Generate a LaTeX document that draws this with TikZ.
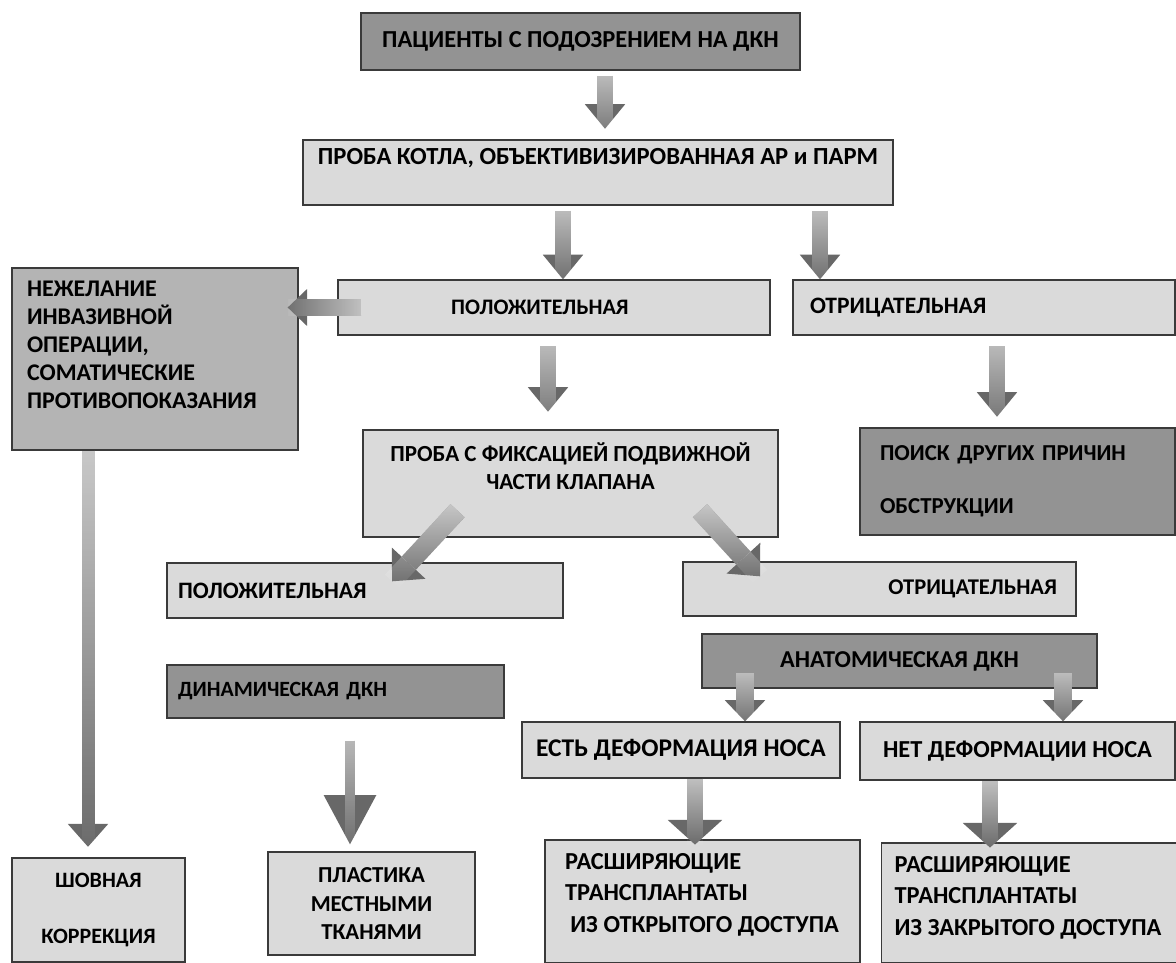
\documentclass[tikz,border=0pt]{standalone}
\usepackage{fontspec}
\setmainfont{Carlito}
\usepackage{tikz}
\usetikzlibrary{arrows.meta,positioning,calc,fadings}

\definecolor{lightfill}{HTML}{DADADA}
\definecolor{midfill}{HTML}{B4B4B4}
\definecolor{darkfill}{HTML}{939393}
\definecolor{arrowgray}{HTML}{686868}
\definecolor{edgegray}{HTML}{3A3A3A}

\newcommand{\fsz}[2]{\bfseries\fontsize{#1}{#2}\selectfont}

\tikzfading[name=arrowfade, top color=transparent!35, bottom color=transparent!100]

\tikzset{
  box/.style={draw=edgegray, line width=0.8pt, rectangle, inner sep=0pt},
  light/.style={box, fill=lightfill},
  mid/.style={box, fill=midfill},
  dark/.style={box, fill=darkfill},
  barrow/.style={draw=arrowgray, line width=9pt, -{Triangle[length=14pt,width=23pt,line width=0pt]},
    postaction={draw=white, -, path fading=arrowfade, fading angle=#1}},
  barrow/.default=0,
}

\begin{document}
\begin{tikzpicture}[x=0.02cm, y=-0.02cm, font=\fsz{11.5}{15.5}]
  \useasboundingbox[fill=white] (0,0) rectangle (1176,963);

  \node[dark, minimum width=8.78cm, minimum height=1.14cm, font=\fsz{13.9}{17}] (suspect) at (580.5,41.5) {ПАЦИЕНТЫ С ПОДОЗРЕНИЕМ НА ДКН};
  \node[light, minimum width=11.8cm, minimum height=1.3cm, font=\fsz{14}{17}] (kotle) at (598,172.5) {\raisebox{8pt}[\height][\depth]{ПРОБА КОТЛА, ОБЪЕКТИВИЗИРОВАННАЯ АР и ПАРМ}};
  \node[light, minimum width=8.64cm, minimum height=1.1cm, font=\fsz{12.6}{15.5}] (pos1) at (554,307.5) {ПОЛОЖИТЕЛЬНАЯ\hspace*{16pt}};
  \node[light, minimum width=7.64cm, minimum height=1.1cm, text width=6.96cm, inner xsep=0.34cm, align=left, font=\fsz{13.4}{16}] (neg1) at (984,307.5) {ОТРИЦАТЕЛЬНАЯ};
  \node[mid, minimum width=5.72cm, minimum height=3.64cm, text width=5.12cm, inner xsep=0.3cm, align=left, font=\fsz{13.6}{16}] (refuse) at (155,359)
    {\raisebox{7pt}[\height][\depth]{\begin{tabular}{@{}l@{}}НЕЖЕЛАНИЕ\\ИНВАЗИВНОЙ\\ОПЕРАЦИИ,\\СОМАТИЧЕСКИЕ\\ПРОТИВОПОКАЗАНИЯ\end{tabular}}};
  \node[light, minimum width=8.3cm, minimum height=2.14cm, font=\fsz{13.1}{16}] (fixtest) at (570.5,483.5)
    {\raisebox{8pt}[\height][\depth]{\begin{tabular}{@{}c@{}}ПРОБА С ФИКСАЦИЕЙ ПОДВИЖНОЙ\\ЧАСТИ КЛАПАНА\end{tabular}}};
  \node[dark, minimum width=6.3cm, minimum height=2.14cm, text width=5.5cm, inner xsep=0.4cm, align=left, font=\fsz{13}{16}] (search) at (1017.5,481.5) {ПОИСК ДРУГИХ ПРИЧИН\\[14pt]ОБСТРУКЦИИ};
  \node[light, minimum width=7.92cm, minimum height=1.1cm, text width=7.48cm, inner xsep=0.22cm, align=left, font=\fsz{13.4}{16}] (pos2) at (365,590.5) {ПОЛОЖИТЕЛЬНАЯ};
  \node[light, minimum width=7.86cm, minimum height=1.08cm, text width=7.1cm, inner xsep=0.38cm, align=right, font=\fsz{12.8}{16}] (neg2) at (879.5,589) {ОТРИЦАТЕЛЬНАЯ};
  \node[dark, minimum width=7.9cm, minimum height=1.08cm, font=\fsz{13.8}{16}] (anatom) at (899.5,661) {АНАТОМИЧЕСКАЯ ДКН};
  \node[dark, minimum width=6.74cm, minimum height=1.06cm, text width=6.3cm, inner xsep=0.22cm, align=left, font=\fsz{12.4}{15.5}] (dynam) at (335.5,691.5) {ДИНАМИЧЕСКАЯ ДКН};
  \node[light, minimum width=6.36cm, minimum height=1.12cm, font=\fsz{14.5}{17}] (deform) at (681,750) {ЕСТЬ ДЕФОРМАЦИЯ НОСА};
  \node[light, minimum width=6.3cm, minimum height=1.16cm, font=\fsz{13.9}{17}] (nodeform) at (1017.5,751) {НЕТ ДЕФОРМАЦИИ НОСА};
  \node[light, inner xsep=0.4cm, inner ysep=0.26cm] (opengraft) at (702.5,901.5)
    {\parbox[c][1.94cm][t]{5.5cm}{\fsz{13.9}{18}РАСШИРЯЮЩИЕ\\ТРАНСПЛАНТАТЫ\\\hspace*{3pt}ИЗ ОТКРЫТОГО ДОСТУПА}};
  \node[light, inner xsep=0.26cm, inner ysep=0.26cm] (closedgraft) at (1029.5,903)
    {\parbox[c][1.88cm][t]{5.4cm}{\fsz{13.9}{18}РАСШИРЯЮЩИЕ\\ТРАНСПЛАНТАТЫ\\ИЗ ЗАКРЫТОГО ДОСТУПА}};
  \node[light, minimum width=3.46cm, minimum height=2.08cm, align=center, font=\fsz{12.5}{15.5}] (suture) at (98.5,910) {ШОВНАЯ\\[16pt]КОРРЕКЦИЯ};
  \node[light, minimum width=4.14cm, minimum height=2.06cm, align=center, font=\fsz{13}{16.5}] (localplasty) at (371.5,903.5) {ПЛАСТИКА\\МЕСТНЫМИ\\ТКАНЯМИ};

  \draw[barrow, shorten <=3pt, shorten >=6pt] (suspect.south -| 605,0) -- (kotle.north -| 605,0);
  \draw[barrow, shorten <=3pt] (kotle.south -| 563,0) -- (pos1.north -| 563,0);
  \draw[barrow, shorten <=3pt] (kotle.south -| 820,0) -- (neg1.north -| 820,0);
  \draw[barrow=-90, line width=9.5pt, -{Triangle[length=11pt,width=21pt,line width=0pt]}] ($(pos1.west)+(24,0)$) -- ($(refuse.east |- pos1.west)+(-11,0)$);
  \draw[barrow, shorten <=6pt, shorten >=10pt] (pos1.south -| 548,0) -- (fixtest.north -| 548,0);
  \draw[barrow, shorten <=6pt, shorten >=6pt] (neg1.south -| 997,0) -- (search.north -| 997,0);
  \draw[barrow, line width=11pt, -{Triangle[length=14pt,width=26pt,line width=0pt]}] ($(fixtest.south)+(-113,-27)$) -- ($(pos2.north)+(27,19)$);
  \draw[barrow, line width=11pt, -{Triangle[length=14pt,width=26pt,line width=0pt]}] ($(fixtest.south)+(129.5,-27)$) -- ($(neg2.north)+(-119.5,15)$);
  \draw[barrow, line width=10pt, -{Triangle[length=12pt,width=23pt,line width=0pt]}] ($(anatom.south -| 745,0)+(0,-16)$) -- (deform.north -| 745,0);
  \draw[barrow, line width=10pt, -{Triangle[length=12pt,width=23pt,line width=0pt]}] ($(anatom.south -| 1063,0)+(0,-16)$) -- (nodeform.north -| 1063,0);
  \draw[barrow, -{Triangle[length=14pt,width=31pt,line width=0pt]}, shorten >=-3pt] (deform.south -| 695,0) -- (opengraft.north -| 695,0);
  \draw[barrow, -{Triangle[length=14pt,width=31pt,line width=0pt]}, shorten >=-3pt] (nodeform.south -| 990,0) -- (closedgraft.north -| 990,0);
  \draw[barrow, line width=7.4pt, -{Triangle[length=13pt,width=23pt,line width=0pt]}, shorten >=6pt] (refuse.south -| 88,0) -- (suture.north -| 88,0);
  \draw[barrow, line width=5.7pt, -{Triangle[length=28pt,width=30pt,line width=0pt]}, shorten <=12.5pt, shorten >=4pt] (dynam.south -| 350,0) -- (localplasty.north -| 350,0);
\end{tikzpicture}
\end{document}
